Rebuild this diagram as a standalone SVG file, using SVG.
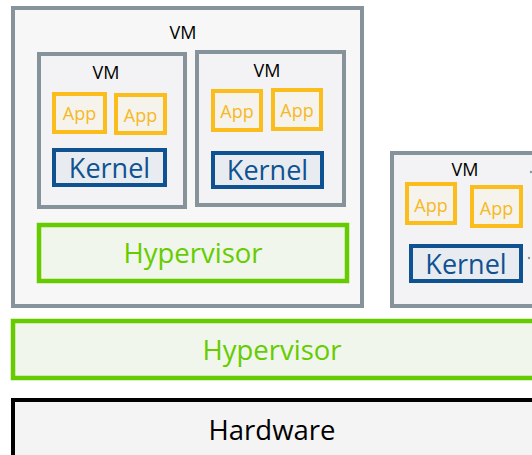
<svg xmlns="http://www.w3.org/2000/svg" width="532" height="455" viewBox="0 0 532 455">
<style>
text{font-family:"Open Sans","Noto Sans","Liberation Sans",sans-serif;text-anchor:middle;dominant-baseline:central}
.vmo{fill:#f7f7f8;stroke:#87939a;stroke-width:4}
.vmi{fill:#f3f3f5;stroke:#87939a;stroke-width:4}
.app{fill:#f6f3ec;stroke:#fbbd1c;stroke-width:4}
.appt{fill:#f5b925;font-size:18px}
.ker{fill:#e8ecf1;stroke:#0f5291;stroke-width:4}
.kert{fill:#0f5291;font-size:27px}
.hyp{fill:#f0f6eb;stroke:#66cc00;stroke-width:4.5}
.hypt{fill:#66cc00;font-size:27.5px}
.vmt{fill:#000;font-size:18px}
</style>
<rect width="532" height="455" fill="#ffffff"/>
<g id="outer-vm">
<rect class="vmo" x="13" y="8" width="349" height="298"/>
<text class="vmt" x="183" y="32">VM</text>
</g>
<g id="vm1">
<rect class="vmi" x="39" y="54" width="146" height="153"/>
<text class="vmt" x="106" y="72">VM</text>
</g>
<g id="app1"><rect class="app" x="54" y="94" width="51" height="38"/><text class="appt" x="79.5" y="113">App</text></g>
<g id="app2"><rect class="app" x="116" y="95" width="49" height="38"/><text class="appt" x="140.5" y="115">App</text></g>
<g id="kernel1"><rect class="ker" x="54" y="150" width="111" height="35"/><text class="kert" x="109.5" y="167">Kernel</text></g>
<g id="vm2">
<rect class="vmi" x="197" y="52" width="147" height="153"/>
<text class="vmt" x="267" y="70">VM</text>
</g>
<g id="app3"><rect class="app" x="213" y="91" width="48" height="39"/><text class="appt" x="237" y="111">App</text></g>
<g id="app4"><rect class="app" x="273" y="90" width="48" height="39"/><text class="appt" x="297" y="110">App</text></g>
<g id="kernel2"><rect class="ker" x="213" y="153" width="109" height="34"/><text class="kert" x="267.5" y="169">Kernel</text></g>
<g id="hypervisor-inner"><rect class="hyp" x="39" y="225" width="308" height="56"/><text class="hypt" x="193" y="252">Hypervisor</text></g>
<g id="vm3">
<rect class="vmi" x="392" y="153" width="150" height="153"/>
<text class="vmt" x="465" y="169">VM</text>
<circle cx="531" cy="172" r="1.2" fill="#87939a"/>
<circle cx="529" cy="258" r="1.2" fill="#87939a"/>
</g>
<g id="app5"><rect class="app" x="407" y="184" width="48" height="39"/><text class="appt" x="431" y="205">App</text></g>
<g id="app6"><rect class="app" x="472" y="187" width="49" height="39"/><text class="appt" x="496.5" y="208">App</text></g>
<g id="kernel3"><rect class="ker" x="411" y="246" width="110" height="35"/><text class="kert" x="466" y="263">Kernel</text></g>
<g id="hypervisor"><rect class="hyp" x="13" y="321" width="540" height="57"/><text class="hypt" x="272" y="349">Hypervisor</text></g>
<g id="hardware"><rect x="13" y="400" width="540" height="70" fill="#f4f4f4" stroke="#000" stroke-width="4"/><text x="272" y="429" font-size="27.5" fill="#000">Hardware</text></g>
<g id="connectors"></g>
</svg>
